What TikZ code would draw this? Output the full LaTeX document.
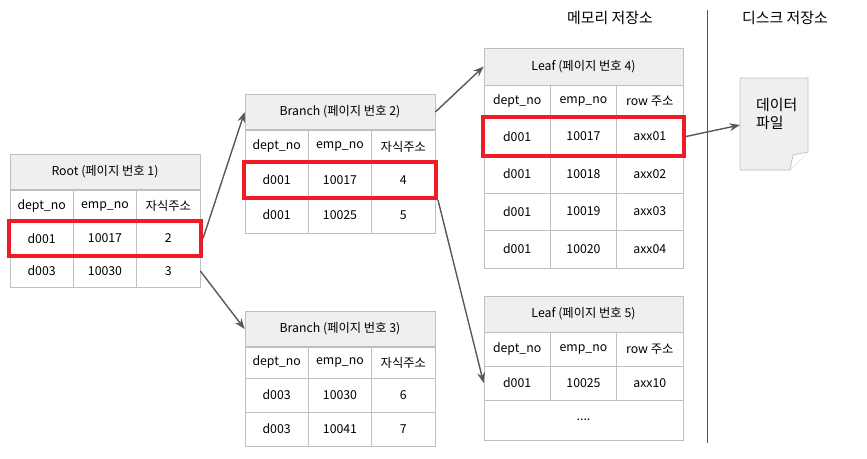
\documentclass[tikz,border=0pt]{standalone}
\usepackage{fontspec}
\setmainfont{Noto Sans CJK KR}
\usetikzlibrary{arrows.meta,fit}
\def\u{0.02cm}
\definecolor{grd}{HTML}{BFBFBF}
\definecolor{hdfill}{HTML}{EFEFEF}
\definecolor{hired}{HTML}{EE1C25}
\definecolor{arrc}{HTML}{595959}
\tikzset{
  cell/.style={draw=grd,fill=white,inner sep=0pt,font=\fontsize{7}{8}\selectfont},
  hd/.style={cell,fill=hdfill},
  hl/.style={draw=hired,line width=2pt,inner sep=0.5pt},
  arr/.style={draw=arrc,thick,-{Stealth[length=6pt]}},
  lbl/.style={font=\fontsize{8.5}{10}\selectfont}
}
% name, x, y1, y2, width, three texts
\newcommand\trow[8]{\foreach \t [count=\i] in {#6,#7,#8}
  \node[cell,minimum width=#5/3*\u,minimum height=(#4-#3)*\u] (#1-\i) at ({#2+(\i-0.5)*#5/3},{(#3+#4)/2}) {\t};}
\begin{document}
\begin{tikzpicture}[x=\u,y=-\u]
\useasboundingbox (0,0) rectangle (867,458);
% root
\node[hd,minimum width=190*\u,minimum height=35*\u] (rt) at (105,172) {Root (페이지 번호 1)};
\trow{rt1}{10}{190}{222}{190}{dept\_no}{emp\_no}{자식주소}
\trow{rt2}{10}{222}{255}{190}{d001}{10017}{2}
\trow{rt3}{10}{255}{287}{190}{d003}{10030}{3}
% branch 2
\node[hd,minimum width=190*\u,minimum height=35*\u] (bra) at (340,112) {Branch (페이지 번호 2)};
\trow{bra1}{245}{130}{163}{190}{dept\_no}{emp\_no}{자식주소}
\trow{bra2}{245}{163}{197}{190}{d001}{10017}{4}
\trow{bra3}{245}{197}{233}{190}{d001}{10025}{5}
% branch 3
\node[hd,minimum width=190*\u,minimum height=35*\u] (brb) at (340,329) {Branch (페이지 번호 3)};
\trow{brb1}{245}{347}{378}{190}{dept\_no}{emp\_no}{자식주소}
\trow{brb2}{245}{378}{412}{190}{d003}{10030}{6}
\trow{brb3}{245}{412}{446}{190}{d003}{10041}{7}
% leaf 4
\node[hd,minimum width=199*\u,minimum height=37*\u] (lfa) at (583.5,66.5) {Leaf (페이지 번호 4)};
\trow{lfa1}{484}{85}{118}{199}{dept\_no}{emp\_no}{row 주소}
\trow{lfa2}{484}{118}{155}{199}{d001}{10017}{axx01}
\trow{lfa3}{484}{155}{193}{199}{d001}{10018}{axx02}
\trow{lfa4}{484}{193}{230}{199}{d001}{10019}{axx03}
\trow{lfa5}{484}{230}{268}{199}{d001}{10020}{axx04}
% leaf 5
\node[hd,minimum width=199*\u,minimum height=36*\u] (lfb) at (583.5,314) {Leaf (페이지 번호 5)};
\trow{lfb1}{484}{332}{366}{199}{dept\_no}{emp\_no}{row 주소}
\trow{lfb2}{484}{366}{400}{199}{d001}{10025}{axx10}
\node[cell,minimum width=199*\u,minimum height=40*\u] (lfb3) at (583.5,420) {....};
% highlights
\node[hl,fit=(rt2-1)(rt2-3)] (rtsel) {};
\node[hl,fit=(bra2-1)(bra2-3)] (brsel) {};
\node[hl,fit=(lfa2-1)(lfa2-3)] (lfsel) {};
% storage areas
\draw[arrc] (707,10) -- (707,443);
\node[lbl] (mem) at (610,18) {메모리 저장소};
\node[lbl] (dsk) at (785,18) {디스크 저장소};
\draw[draw=grd,fill=hdfill] (740,78) -- (808,78) -- (808,152) -- (790,170) -- (740,170) -- cycle;
\draw[draw=grd,fill=white] (790,170) -- (793,155) -- (808,152);
\coordinate (doc) at (740,125);
\node[lbl,align=left,anchor=north west] (dat) at (750,92) {데이터\\파일};
% pointers
\draw[arr] (rtsel.east) -- (bra.west);
\draw[arr] (rt3-3.east) -- (brb.west);
\draw[arr] (bra.east) -- (lfa.west);
\draw[arr] (brsel.south east) -- (lfb2-1.west);
\draw[arr] (lfsel.east) -- (doc);
\end{tikzpicture}
\end{document}
